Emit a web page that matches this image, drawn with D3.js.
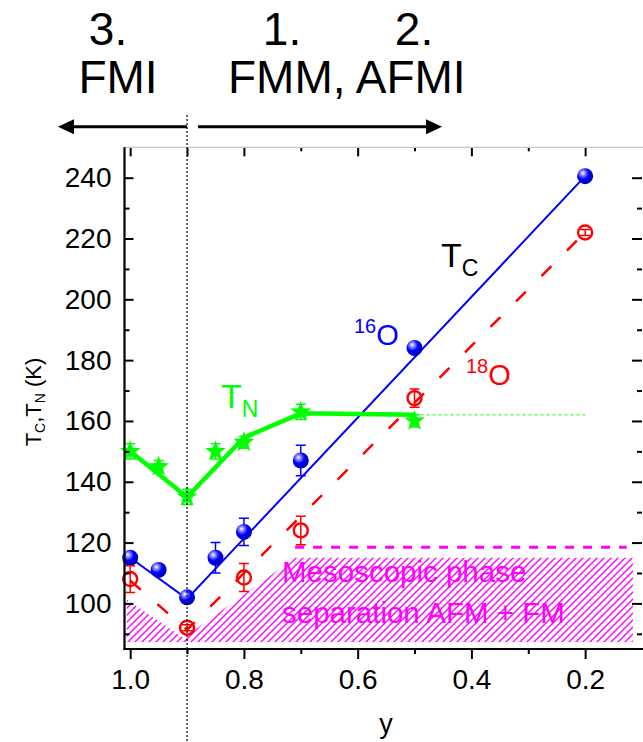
<!DOCTYPE html>
<html><head><meta charset="utf-8">
<script src="https://cdn.jsdelivr.net/npm/d3@7"></script>
<style>html,body{margin:0;padding:0;background:#fff}svg{display:block;font-family:"Liberation Sans",Arial,sans-serif}</style>
</head><body><svg id="c" width="643" height="742"></svg>
<script>
// ---- data ----
const y16 = [1.0, 0.95, 0.9, 0.85, 0.8, 0.7, 0.5, 0.2];
const tc16 = [115, 111, 102, 115, 123.5, 147, 184, 240.5];
const err16 = [1.5, 0, 0, 5, 4.5, 5, 1, 0.5];
const y18 = [1.0, 0.9, 0.8, 0.7, 0.5, 0.2];
const tc18 = [108, 92, 108.5, 124, 167.5, 222];
const err18 = [4.4, 1, 4.6, 4.7, 3, 1];
const yN = [1.0, 0.95, 0.9, 0.85, 0.8, 0.7, 0.5];
const tN = [150, 145, 135, 150, 153, 163, 160];
const errN = [2.5, 2, 2.5, 2.5, 2, 2.5, 2];
const fit16Y = [1.0, 0.9, 0.2], fit16T = [115, 101.5, 240.5];
const fit18Y = [1.0, 0.9, 0.2], fit18T = [107.5, 91.3, 222];
const fitNY = [1.0, 0.9, 0.8, 0.7, 0.5], fitNT = [150, 135, 154.5, 162.5, 162];
const dotNY = [0.5, 0.2], dotNT = [162, 162];
const hatchY = [1.006, 0.906, 0.71, 0.116, 0.116, 1.006];
const hatchT = [101.3, 88.6, 115, 115, 87.3, 87.3];
const psLineY = [0.71, 0.127], psLineT = [118.5, 118.5];
const xMajor = [1.0, 0.8, 0.6, 0.4, 0.2];
const xMinor = [0.9, 0.7, 0.5, 0.3];
const tMajor = [100, 120, 140, 160, 180, 200, 220, 240];
const tMinor = [90, 110, 130, 150, 170, 190, 210, 230];
const boundaryY = 0.9;

const svg = d3.select("#c");
const x = d3.scaleLinear().domain([1.01, 0.1]).range([124.5, 642]);
const y = d3.scaleLinear().domain([85, 250]).range([649, 147.3]);
const FONT = '"Liberation Sans",Arial,sans-serif';

const defs = svg.append("defs");
const pat = defs.append("pattern").attr("id","hatch").attr("patternUnits","userSpaceOnUse")
  .attr("width",7).attr("height",7);
pat.append("path").attr("d","M-1,1 l2,-2 M0,7 l7,-7 M6,8 l2,-2").attr("stroke","#ff00ff").attr("stroke-width",1.4);
const rg = defs.append("radialGradient").attr("id","ball").attr("cx","38%").attr("cy","35%").attr("r","65%").attr("fx","35%").attr("fy","30%");
rg.append("stop").attr("offset","0%").attr("stop-color","#ffffff");
rg.append("stop").attr("offset","22%").attr("stop-color","#9090ff");
rg.append("stop").attr("offset","55%").attr("stop-color","#0000ff");
rg.append("stop").attr("offset","100%").attr("stop-color","#0000b0");

// hatch region
const hatchPts = hatchY.map((v,i)=>[x(v), y(hatchT[i])]);
svg.append("path").attr("d", d3.line()(hatchPts)+"Z").attr("fill","url(#hatch)");
svg.append("path").attr("d", d3.line()(psLineY.map((v,i)=>[x(v),y(psLineT[i])])))
  .attr("stroke","#ff00ff").attr("stroke-width",3).attr("stroke-dasharray","9,9").attr("fill","none");
const mt = svg.append("g").attr("font-family",FONT).attr("font-size",29.5).attr("fill","#ff00ff");
mt.append("text").attr("x",282).attr("y",582).text("Mesoscopic phase");
mt.append("text").attr("x",282).attr("y",623).text("separation AFM + FM");

// fit lines
const line = d3.line().x(d=>x(d[0])).y(d=>y(d[1]));
svg.append("path").attr("d", line(fit18Y.map((v,i)=>[v,fit18T[i]])))
  .attr("stroke","#ff0000").attr("stroke-width",2.5).attr("stroke-dasharray","14,22").attr("fill","none");
svg.append("path").attr("d", line(fit16Y.map((v,i)=>[v,fit16T[i]])))
  .attr("stroke","#0000ff").attr("stroke-width",2).attr("fill","none");
svg.append("path").attr("d", line(fitNY.map((v,i)=>[v,fitNT[i]])))
  .attr("stroke","#00ff00").attr("stroke-width",4.5).attr("stroke-linejoin","round").attr("fill","none");
svg.append("path").attr("d", line(dotNY.map((v,i)=>[v,dotNT[i]])))
  .attr("stroke","#00ff00").attr("stroke-width",1).attr("stroke-dasharray","3,3").attr("fill","none");

function errBars(xs, ts, es, color, w){
  const g = svg.append("g").attr("stroke",color).attr("stroke-width",w).attr("fill","none");
  xs.forEach((v,i)=>{
    if(!es[i]) return;
    const cx = x(v), y1 = y(ts[i]+es[i]), y2 = y(ts[i]-es[i]);
    g.append("path").attr("d",`M${cx},${y1}V${y2}M${cx-5},${y1}H${cx+5}M${cx-5},${y2}H${cx+5}`);
  });
}
// blue
errBars(y16, tc16, err16, "#0000ff", 1.5);
svg.append("g").selectAll("circle").data(y16).join("circle")
  .attr("cx",d=>x(d)).attr("cy",(d,i)=>y(tc16[i])).attr("r",8).attr("fill","url(#ball)");
// red
svg.append("g").selectAll("circle").data(y18).join("circle")
  .attr("cx",d=>x(d)).attr("cy",(d,i)=>y(tc18[i])).attr("r",7).attr("fill","none")
  .attr("stroke","#ff0000").attr("stroke-width",2.4);
errBars(y18, tc18, err18, "#ff0000", 1.5);
// green
errBars(yN, tN, errN, "#00ff00", 1.5);
function starPath(R, r){
  let p="";
  for(let k=0;k<10;k++){
    const a = -Math.PI/2 + k*Math.PI/5, rr = k%2?r:R;
    p += (k?"L":"M")+(rr*Math.cos(a)).toFixed(2)+","+(rr*Math.sin(a)).toFixed(2);
  }
  return p+"Z";
}
svg.append("g").selectAll("path").data(yN).join("path")
  .attr("d",starPath(11,4.5)).attr("transform",(d,i)=>`translate(${x(d)},${y(tN[i])})`)
  .attr("fill","#00ff00");

// series labels
function lab(xp, yp, main, sub, color, mainSize, subSize, supFirst){
  const t = svg.append("text").attr("x",xp).attr("y",yp).attr("fill",color).attr("font-family",FONT);
  if(supFirst){
    t.append("tspan").attr("font-size",subSize).attr("dy",-12).text(sub);
    t.append("tspan").attr("font-size",mainSize).attr("dy",12).text(main);
  } else {
    t.append("tspan").attr("font-size",mainSize).text(main);
    t.append("tspan").attr("font-size",subSize).attr("dy",9).text(sub);
  }
}
lab(441, 267, "T", "C", "#000", 34, 23, false);
lab(221, 408, "T", "N", "#00ff00", 34, 23, false);
lab(354, 345, "O", "16", "#0000ff", 29, 20, true);
lab(466, 385, "O", "18", "#ff0000", 29, 20, true);

// axes
const axG = svg.append("g").attr("font-family",FONT);
axG.append("g").attr("transform",`translate(${x.range()[0]},0)`)
  .call(d3.axisLeft(y).tickValues(tMajor).tickSize(-9).tickPadding(13).tickFormat(d3.format("d")));
axG.append("g").attr("transform",`translate(${x.range()[0]},0)`)
  .call(d3.axisLeft(y).tickValues(tMinor).tickSize(-5).tickFormat(""));
axG.append("g").attr("transform",`translate(0,${y.range()[0]})`)
  .call(d3.axisBottom(x).tickValues(xMajor).tickSize(10).tickPadding(10).tickFormat(d3.format(".1f")));
axG.append("g").attr("transform",`translate(0,${y.range()[0]})`)
  .call(d3.axisBottom(x).tickValues(xMinor).tickSize(5).tickFormat(""));
// top & right mirror ticks
axG.append("g").attr("transform",`translate(0,${y.range()[1]})`)
  .call(d3.axisTop(x).tickValues(xMajor.concat([0.9])).tickSize(-9).tickFormat(""));
axG.append("g").attr("transform",`translate(0,${y.range()[1]})`)
  .call(d3.axisTop(x).tickValues([0.7,0.5,0.3]).tickSize(-4).tickFormat(""));
axG.append("g").attr("transform",`translate(${x.range()[1]},0)`)
  .call(d3.axisRight(y).tickValues(tMajor).tickSize(-10).tickFormat(""));
axG.append("g").attr("transform",`translate(${x.range()[1]},0)`)
  .call(d3.axisRight(y).tickValues(tMinor).tickSize(-5).tickFormat(""));
axG.selectAll(".domain").remove();
axG.selectAll(".tick line").attr("stroke","#000").attr("stroke-width",2);
axG.selectAll(".tick text").attr("font-size",28).attr("fill","#000").attr("font-family",FONT);
// frame lines
svg.append("line").attr("x1",x.range()[0]).attr("x2",643).attr("y1",y.range()[1]).attr("y2",y.range()[1])
  .attr("stroke","#c8c8c8").attr("stroke-width",1.2);
svg.append("line").attr("x1",x.range()[0]).attr("x2",x.range()[0]).attr("y1",y.range()[1]).attr("y2",y.range()[0]+1)
  .attr("stroke","#000").attr("stroke-width",2.2);
svg.append("line").attr("x1",x.range()[0]-1).attr("x2",643).attr("y1",y.range()[0]).attr("y2",y.range()[0])
  .attr("stroke","#000").attr("stroke-width",2.2);

// axis titles
svg.append("text").attr("x",386).attr("y",733).attr("text-anchor","middle").attr("font-size",27)
  .attr("font-family",FONT).text("y");
const yt = svg.append("text").attr("transform","translate(41,402) rotate(-90)").attr("text-anchor","middle")
  .attr("font-size",22).attr("font-family",FONT);
yt.append("tspan").text("T");
yt.append("tspan").attr("font-size",14).attr("dy",4).text("C");
yt.append("tspan").attr("dy",-4).text(",T");
yt.append("tspan").attr("font-size",14).attr("dy",4).text("N");
yt.append("tspan").attr("dy",-4).text(" (K)");

// vertical dotted boundary
svg.append("line").attr("x1",x(boundaryY)).attr("x2",x(boundaryY)).attr("y1",115).attr("y2",742)
  .attr("stroke","#000").attr("stroke-width",1.2).attr("stroke-dasharray","2,2");

// header
const hd = svg.append("g").attr("font-family",FONT).attr("font-size",46).attr("fill","#000");
hd.append("text").attr("x",108).attr("y",45).attr("text-anchor","middle").text("3.");
hd.append("text").attr("x",118).attr("y",93).attr("text-anchor","middle").text("FMI");
hd.append("text").attr("x",282).attr("y",45).attr("text-anchor","middle").text("1.");
hd.append("text").attr("x",414).attr("y",45).attr("text-anchor","middle").text("2.");
hd.append("text").attr("x",228).attr("y",93).text("FMM, AFMI");
const ay = 126.7;
const arr = svg.append("g");
arr.append("line").attr("x1",72).attr("x2",x(boundaryY)).attr("y1",ay).attr("y2",ay).attr("stroke","#000").attr("stroke-width",3);
arr.append("path").attr("d",`M58,${ay}L74,${ay-7.5}L74,${ay+7.5}Z`).attr("fill","#000");
arr.append("line").attr("x1",x(boundaryY)+11).attr("x2",428).attr("y1",ay).attr("y2",ay).attr("stroke","#000").attr("stroke-width",3);
arr.append("path").attr("d",`M442,${ay}L426,${ay-7.5}L426,${ay+7.5}Z`).attr("fill","#000");
</script></body></html>
